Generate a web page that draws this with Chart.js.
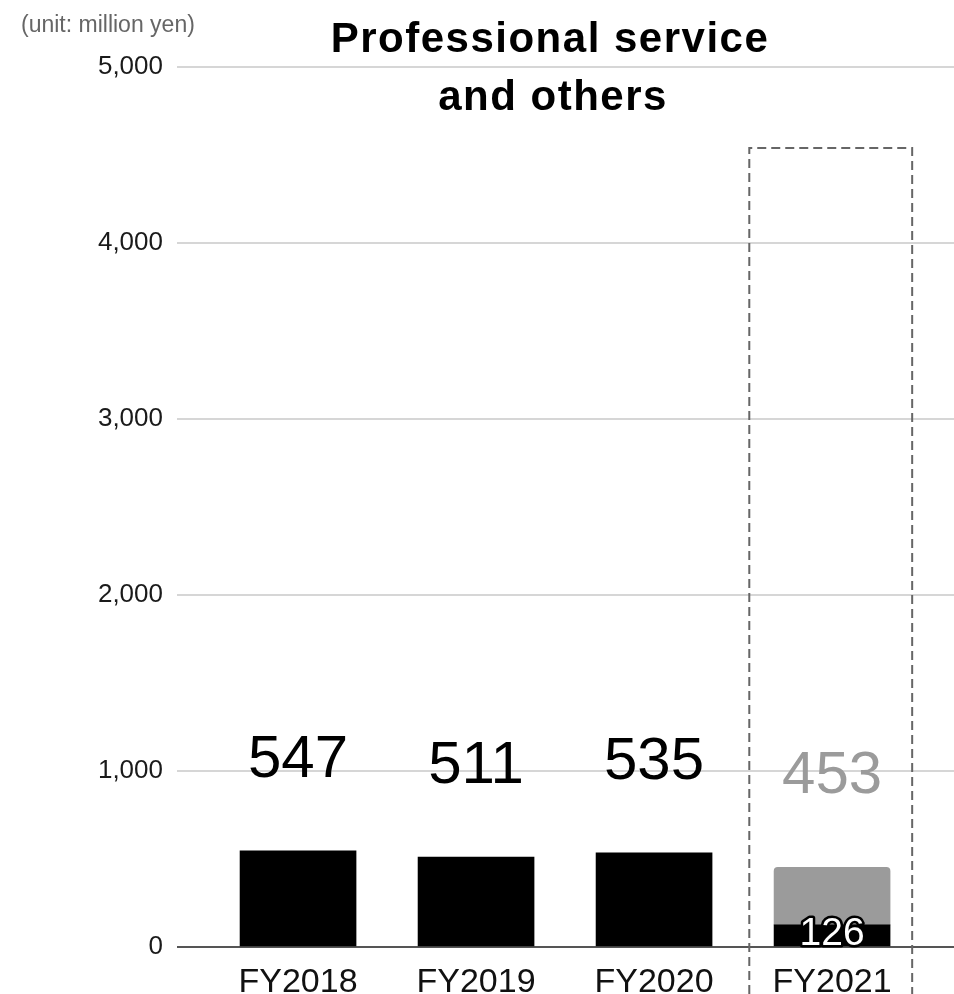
<!DOCTYPE html>
<html>
<head>
<meta charset="utf-8">
<title>Professional service and others</title>
<script src="https://cdn.jsdelivr.net/npm/chart.js@4.4.1/dist/chart.umd.min.js"></script>
<style>
  html, body { margin: 0; padding: 0; background: #fff; }
  #wrap { position: relative; width: 954px; height: 994px; }
</style>
</head>
<body>
<div id="wrap"><canvas id="segmentChart"></canvas></div>
<script>
// 売上データ（百万円）
const categories = ['FY2018', 'FY2019', 'FY2020', 'FY2021'];
const results = [547, 511, 535, 126];          // 実績
const forecast = [null, null, null, 453];      // 通期予想
const yTicks = [0, 1000, 2000, 3000, 4000, 5000];

const FONT = "'Liberation Sans', Arial, Helvetica, sans-serif";
const GREY = '#9b9b9b';

Chart.defaults.font.family = FONT;
Chart.defaults.color = '#222';

// 予想のうち実績を除いた残り部分
const remaining = forecast.map((f, i) => (f == null ? null : f - results[i]));

// 棒の上の数値と FY2021 の実績ラベル
const valueLabels = {
  id: 'valueLabels',
  afterDatasetsDraw(chart) {
    const { ctx, scales: { x, y } } = chart;
    ctx.save();
    ctx.textAlign = 'center';
    ctx.textBaseline = 'alphabetic';
    categories.forEach((c, i) => {
      const isForecast = forecast[i] != null;
      const total = isForecast ? forecast[i] : results[i];
      const cx = x.getPixelForValue(i);
      ctx.font = '60px ' + FONT;
      ctx.fillStyle = isForecast ? GREY : '#000';
      ctx.fillText(String(total), cx, y.getPixelForValue(total) - 74);
      if (isForecast) {
        ctx.font = '39px ' + FONT;
        ctx.lineJoin = 'round';
        ctx.lineWidth = 5;
        ctx.strokeStyle = '#000';
        ctx.strokeText(String(results[i]), cx, y.getPixelForValue(0) - 2);
        ctx.fillStyle = '#fff';
        ctx.fillText(String(results[i]), cx, y.getPixelForValue(0) - 2);
      }
    });
    ctx.restore();
  }
};

// タイトル・単位・予想年度の点線枠
const decorations = {
  id: 'decorations',
  afterDraw(chart) {
    const { ctx, scales: { x, y } } = chart;
    ctx.save();

    ctx.fillStyle = '#666';
    ctx.font = '23px ' + FONT;
    ctx.textAlign = 'left';
    ctx.textBaseline = 'alphabetic';
    ctx.fillText('(unit: million yen)', 21, 32);

    ctx.fillStyle = '#000';
    ctx.font = 'bold 42px ' + FONT;
    ctx.textAlign = 'center';
    ctx.letterSpacing = '1.5px';
    ctx.fillText('Professional service', 550, 52);
    ctx.fillText('and others', 553, 110);
    ctx.letterSpacing = '0px';

    const idx = forecast.findIndex(v => v != null);
    const left = x.getPixelForValue(idx - 0.465);
    const right = x.getPixelForValue(idx + 0.45);
    const top = y.getPixelForValue(4540);
    const bottom = chart.height;
    ctx.strokeStyle = '#666';
    ctx.lineWidth = 2;
    ctx.setLineDash([9, 5]);
    ctx.beginPath();
    ctx.moveTo(left, bottom);
    ctx.lineTo(left, top);
    ctx.lineTo(right, top);
    ctx.lineTo(right, bottom);
    ctx.stroke();
    ctx.restore();
  }
};

const ctx = document.getElementById('segmentChart').getContext('2d');

new Chart(ctx, {
  type: 'bar',
  data: {
    datasets: [
      {
        label: '実績',
        data: results.map((v, i) => ({ x: i, y: v })),
        backgroundColor: '#000',
        barThickness: 116
      },
      {
        label: '予想',
        data: remaining.map((v, i) => ({ x: i, y: v })),
        backgroundColor: GREY,
        barThickness: 116,
        borderRadius: { topLeft: 4, topRight: 4, bottomLeft: 0, bottomRight: 0 },
        borderSkipped: false
      }
    ]
  },
  options: {
    responsive: true,
    maintainAspectRatio: false,
    animation: false,
    layout: { padding: { top: 67, left: 0, right: 0, bottom: 0 } },
    plugins: {
      legend: { display: false },
      tooltip: { enabled: false }
    },
    scales: {
      x: {
        type: 'linear',
        stacked: true,
        offset: false,
        min: -0.68,
        max: 3.685,
        afterBuildTicks(scale) {
          scale.ticks = categories.map((c, i) => ({ value: i }));
        },
        afterFit(scale) {
          scale.height = 47;
        },
        grid: { display: false, offset: false },
        border: { display: false },
        ticks: {
          padding: 7,
          color: '#111',
          font: { size: 34 },
          callback: v => categories[v]
        }
      },
      y: {
        stacked: true,
        min: 0,
        max: 5000,
        afterBuildTicks(scale) {
          scale.ticks = yTicks.map(v => ({ value: v }));
        },
        afterFit(scale) {
          scale.width = 177;
        },
        border: { display: false },
        grid: {
          drawTicks: false,
          lineWidth: 2,
          color: c => (c.tick && c.tick.value === 0 ? '#555' : '#d6d6d6')
        },
        ticks: {
          padding: 14,
          color: '#1a1a1a',
          font: { size: 26 },
          callback: v => v.toLocaleString('en-US')
        }
      }
    }
  },
  plugins: [valueLabels, decorations]
});
</script>
</body>
</html>
